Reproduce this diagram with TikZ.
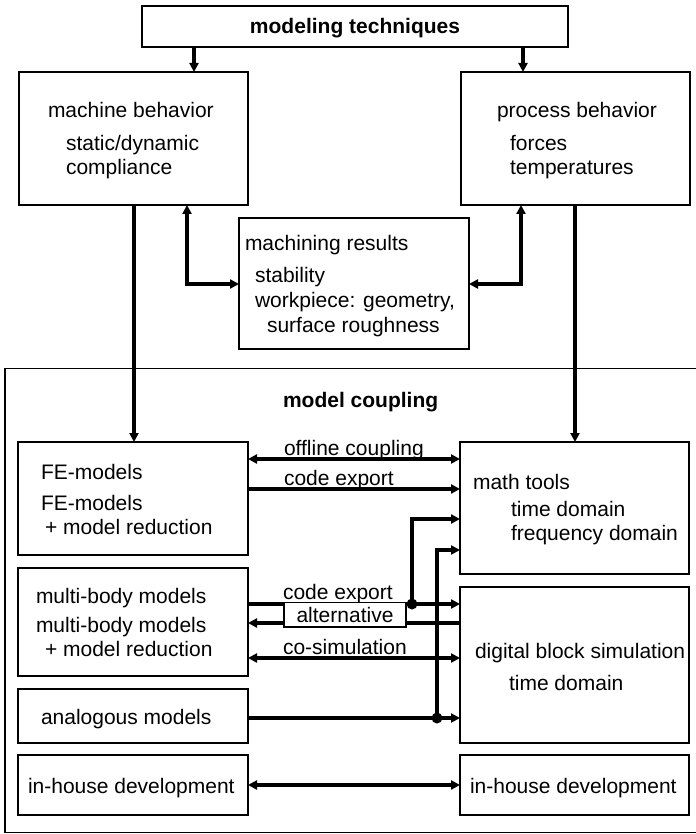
\documentclass[tikz,border=0pt]{standalone}
\usepackage{fontspec}
\setmainfont{Liberation Sans}
\usetikzlibrary{arrows.meta}
\tikzset{
  box/.style={draw, line width=1.4pt, inner sep=0pt, outer sep=0pt, fill=white},
  txt/.style={inner sep=0pt, outer sep=0pt, anchor=base west, font=\fontsize{21}{25}\selectfont},
  ttl/.style={inner sep=0pt, outer sep=0pt, anchor=base west, font=\fontsize{21}{25}\selectfont\bfseries},
  conn/.style={line width=3.3pt},
  heavy/.style={line width=4.5pt},
  jdot/.style={circle, fill, inner sep=0pt, minimum size=11pt},
}
\begin{document}
\begin{tikzpicture}[x=1pt, y=-1pt, >={Triangle[length=9pt,width=9pt]}]
\useasboundingbox (0,0) rectangle (695,834);

% helper coordinates
\coordinate (x194) at (194,0);
\coordinate (x523) at (523,0);
\coordinate (x187) at (187,0);
\coordinate (x521) at (521,0);
\coordinate (x134) at (134,0);
\coordinate (x575) at (575,0);
\coordinate (y284) at (0,284);
\coordinate (y459) at (0,459);
\coordinate (y489) at (0,489);
\coordinate (y519) at (0,519);
\coordinate (y550) at (0,550);
\coordinate (y604) at (0,604);
\coordinate (y623) at (0,623);
\coordinate (y658) at (0,658);
\coordinate (y718) at (0,718);
\coordinate (y785) at (0,785);

% frame
\node[box, fill=none, minimum width=695pt, minimum height=464pt] (frame) at (352.5,600.5) {};

% boxes
\node[box, minimum width=426pt, minimum height=41pt] (top) at (355,26.5) {};
\node[box, minimum width=229pt, minimum height=133pt] (mach) at (133.5,138.5) {};
\node[box, minimum width=229pt, minimum height=133pt] (proc) at (575.5,138.5) {};
\node[box, minimum width=230pt, minimum height=131pt] (res) at (354,283.5) {};
\node[box, minimum width=230pt, minimum height=113pt] (fe) at (133,498.5) {};
\node[box, minimum width=229pt, minimum height=132pt] (math) at (574.5,508) {};
\node[box, minimum width=230pt, minimum height=108pt] (mb) at (133,622) {};
\node[box, minimum width=229pt, minimum height=156pt] (dig) at (574.5,665) {};
\node[box, minimum width=230pt, minimum height=54pt] (ana) at (133,716) {};
\node[box, minimum width=230pt, minimum height=60pt] (ihl) at (133,785) {};
\node[box, minimum width=229pt, minimum height=60pt] (ihr) at (574.5,785) {};

% texts
\node[ttl, anchor=base] (tTop) at (355,34) {modeling techniques};
\node[txt] (tM1) at (48,118) {machine behavior};
\node[txt] (tM2) at (66,151) {static/dynamic};
\node[txt] (tM3) at (66,175) {compliance};
\node[txt] (tP1) at (497,118) {process behavior};
\node[txt] (tP2) at (510,151) {forces};
\node[txt] (tP3) at (510,175) {temperatures};
\node[txt] (tR1) at (245,250) {machining results};
\node[txt] (tR2) at (255,282) {stability};
\node[txt] (tR3) at (255,307) {workpiece: geometry,};
\node[txt] (tR4) at (267,332) {surface roughness};
\node[ttl] (tMC) at (283,407) {model coupling};
\node[txt] (tF1) at (41,479) {FE-models};
\node[txt] (tF2) at (41,510) {FE-models};
\node[txt] (tF3) at (45,534) {+ model reduction};
\node[txt] (tOC) at (284,455) {offline coupling};
\node[txt] (tCE1) at (284,485) {code export};
\node[txt] (tMT1) at (473,489) {math tools};
\node[txt] (tMT2) at (511,516) {time domain};
\node[txt] (tMT3) at (511,540) {frequency domain};
\node[txt] (tB1) at (36,603) {multi-body models};
\node[txt] (tB2) at (36,632) {multi-body models};
\node[txt] (tB3) at (45,656) {+ model reduction};
\node[txt] (tCE2) at (283,599) {code export};
\node[txt] (tCS) at (283,654) {co-simulation};
\node[txt] (tD1) at (475,658) {digital block simulation};
\node[txt] (tD2) at (509,690) {time domain};
\node[txt] (tA) at (41,724) {analogous models};
\node[txt] (tI1) at (28,793) {in-house development};
\node[txt] (tI2) at (470,793) {in-house development};

% connectors top part
\draw[conn,->] (top.south -| x194) -- (mach.north -| x194);
\draw[conn,->] (top.south -| x523) -- (proc.north -| x523);
\draw[conn,<->] (mach.south -| x187) |- (res.west |- y284);
\draw[conn,<->] (proc.south -| x521) |- (res.east |- y284);
\draw[conn,->] (mach.south -| x134) -- (fe.north -| x134);
\draw[conn,->] (proc.south -| x575) -- (math.north -| x575);

% connectors model coupling
\draw[conn,<->] (fe.east |- y459) -- (math.west |- y459);
\draw[heavy,->] (fe.east |- y489) -- (math.west |- y489);
\node[jdot] (d1) at (412,604) {};
\node[jdot] (d2) at (437,718) {};
\draw[conn,->] (d1.center) |- (math.west |- y519);
\draw[conn,->] (d2.center) |- (math.west |- y550);
\draw[heavy,->] (mb.east |- y604) -- (dig.west |- y604);
\draw[heavy,<-] (mb.east |- y623) -- (dig.west |- y623);
\draw[conn,<->] (mb.east |- y658) -- (dig.west |- y658);
\draw[conn,->] (ana.east |- y718) -- (dig.west |- y718);
\draw[conn,<->] (ihl.east |- y785) -- (ihr.west |- y785);

\node[box, minimum width=122pt, minimum height=24.5pt, font=\fontsize{21}{25}\selectfont] (alt) at (345,614.75) {alternative};
\end{tikzpicture}
\end{document}
